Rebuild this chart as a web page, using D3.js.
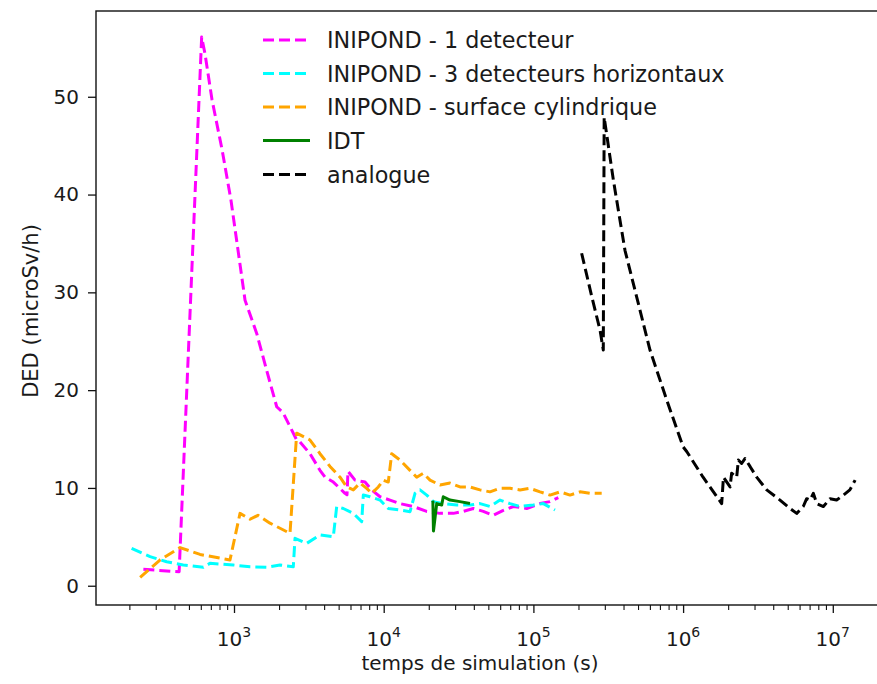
<!DOCTYPE html>
<html><head><meta charset="utf-8">
<script src="https://cdn.jsdelivr.net/npm/d3@7"></script>
<style>
body{margin:0;background:#fff}
svg{display:block}
text{font-family:"DejaVu Sans",sans-serif;fill:#1a1a1a}
</style>
</head><body>
<svg id="c" width="877" height="684"></svg>
<script>
// ---- data: [time (s), DED (microSv/h)] ----
const inipond1 = [[248,1.68],[430,1.43],[608,56.1],[640,54.4],[713,49.7],[832,44.6],[955,39.4],[1185,29.2],[1418,25.8],[1654,22.0],[1929,18.3],[2125,17.7],[2623,14.9],[2760,14.7],[3219,13.5],[3753,11.8],[4055,11.1],[4606,10.6],[5514,9.45],[5686,9.3],[5774,11.7],[6433,10.8],[7503,10.6],[8316,9.8],[9447,9.1],[11020,8.76],[12850,8.4],[15770,8.1],[19380,7.6],[23780,7.4],[29170,7.4],[34010,7.6],[39670,7.9],[46270,7.6],[53970,7.2],[62940,7.7],[73410,8.1],[90220,7.9],[110700,8.4],[129100,8.6],[146700,9.0]];
const inipond3 = [[207,3.82],[275,2.97],[355,2.45],[458,2.12],[624,1.88],[691,2.29],[989,2.12],[1279,1.94],[1654,1.88],[2029,2.12],[2489,1.94],[2556,4.85],[3059,4.33],[3753,5.2],[4606,5.0],[4853,8.1],[5372,7.9],[6265,7.4],[7129,6.55],[7308,9.27],[8099,9.1],[9447,8.76],[10730,7.9],[12850,7.74],[14990,7.57],[16190,9.45],[17480,9.8],[19380,9.27],[21450,8.6],[25010,8.4],[30740,8.25],[37720,8.25],[43990,8.4],[51300,8.1],[59830,8.76],[69790,8.4],[81400,8.1],[99840,8.25],[116500,8.4],[139400,7.74]];
const inipondCyl = [[236,0.86],[320,2.63],[436,3.9],[593,3.2],[940,2.63],[1097,7.4],[1279,6.8],[1446,7.2],[1740,6.4],[2366,5.36],[2623,15.6],[3219,14.9],[3753,13.5],[4378,12.2],[5107,11.1],[5660,10.1],[6265,9.8],[6946,10.5],[7700,9.96],[8316,9.45],[9203,10.1],[9938,10.8],[10730,10.6],[11310,13.5],[12850,12.85],[14990,11.8],[16610,11.1],[18390,11.5],[20390,10.8],[23780,10.3],[27730,10.5],[32340,10.1],[37720,10.1],[43990,9.8],[51300,9.6],[59830,9.96],[69790,9.96],[81400,9.8],[94900,9.96],[110700,9.6],[129100,9.27],[150600,9.6],[175600,9.27],[204800,9.6],[238800,9.45],[285900,9.45]];
const idt = [[21300,8.7],[21500,5.6],[22600,8.4],[24400,8.25],[25000,9.1],[27700,8.76],[32300,8.6],[37700,8.4]];
const analogue = [[210000,34.0],[246000,29.5],[279000,26.1],[293000,24.1],[297000,47.9],[342000,41.5],[409000,34.3],[601000,24.1],[777000,19.0],[1000000,14.2],[1060000,13.7],[1360000,11.1],[1810000,8.4],[1830000,9.45],[1860000,11.1],[2060000,10.1],[2110000,11.5],[2280000,11.1],[2340000,12.85],[2460000,12.5],[2590000,13.0],[2800000,12.2],[3100000,11.1],[3620000,9.8],[4440000,8.76],[5180000,7.9],[5740000,7.4],[6350000,8.1],[6690000,8.9],[7050000,8.76],[7410000,9.45],[7810000,8.4],[8650000,8.1],[9580000,8.9],[10600000,8.76],[11800000,9.27],[13000000,9.8],[14100000,10.8]];

const seriesNames = ["INIPOND - 1 detecteur","INIPOND - 3 detecteurs horizontaux","INIPOND - surface cylindrique","IDT","analogue"];
const seriesData = [inipond1, inipond3, inipondCyl, idt, analogue];
const seriesColors = ["#ff00ff","#00ffff","#ffa500","#008000","#000000"];
const seriesDashed = [true,true,true,false,true];

const yTicks = [0,10,20,30,40,50];
const xMajorExp = [3,4,5,6,7];
const xLabel = "temps de simulation (s)";
const yLabel = "DED (microSv/h)";

// ---- layout ----
const L = 96, R = 892, T = 11, B = 605;
const svg = d3.select("#c");
const x = d3.scaleLog().domain([119.7, 2.486e7]).range([L, R]);
const y = d3.scaleLinear().domain([-1.97, 58.77]).range([B, T]);

svg.append("defs").append("clipPath").attr("id","clip")
  .append("rect").attr("x",L).attr("y",T).attr("width",R-L).attr("height",B-T);

// lines
const line = d3.line().x(d => x(d[0])).y(d => y(d[1]));
const g = svg.append("g").attr("clip-path","url(#clip)");
seriesData.forEach((data,i) => {
  g.append("path").datum(data)
    .attr("d", line)
    .attr("fill","none")
    .attr("stroke", seriesColors[i])
    .attr("stroke-width", 3)
    .attr("stroke-dasharray", seriesDashed[i] ? "11,5" : null)
    .attr("stroke-linejoin","round");
});

// spines
svg.append("rect").attr("x",L).attr("y",T).attr("width",R-L).attr("height",B-T)
  .attr("fill","none").attr("stroke","#111").attr("stroke-width",1.4);

// y axis
const yAxis = d3.axisLeft(y).tickValues(yTicks).tickSize(8).tickPadding(9).tickFormat(d3.format("d"));
const ya = svg.append("g").attr("transform",`translate(${L},0)`).call(yAxis);
ya.select(".domain").remove();
ya.selectAll(".tick line").attr("stroke","#111").attr("stroke-width",1.3);
ya.selectAll(".tick text").style("font-size","20px").attr("font-family",null).attr("fill","#1a1a1a");

// x axis major
const majors = xMajorExp.map(e => Math.pow(10,e));
const xa = svg.append("g").attr("transform",`translate(0,${B})`)
  .call(d3.axisBottom(x).tickValues(majors).tickSize(8).tickFormat(""));
xa.select(".domain").remove();
xa.selectAll(".tick line").attr("stroke","#111").attr("stroke-width",1.3);
// minor ticks
const minors = [];
for (let e = 2; e <= 7; e++) for (let k = 2; k <= 9; k++) {
  const v = k*Math.pow(10,e);
  if (v > x.domain()[0] && v < x.domain()[1]) minors.push(v);
}
const xm = svg.append("g").attr("transform",`translate(0,${B})`)
  .call(d3.axisBottom(x).tickValues(minors).tickSize(5).tickFormat(""));
xm.select(".domain").remove();
xm.selectAll(".tick line").attr("stroke","#111").attr("stroke-width",1.1);

// x tick labels with superscripts
xMajorExp.forEach(e => {
  const t = svg.append("text").attr("x", x(Math.pow(10,e))).attr("y", 646)
    .attr("text-anchor","middle").style("font-size","20px");
  t.append("tspan").text("10");
  t.append("tspan").attr("dy",-9).style("font-size","14px").text(String(e));
});

// axis labels
svg.append("text").attr("x",480).attr("y",670).attr("text-anchor","middle")
  .style("font-size","20px").text(xLabel);
svg.append("text").attr("transform","translate(38,311) rotate(-90)").attr("text-anchor","middle")
  .style("font-size","21px").text(yLabel);

// legend
const legRows = [40, 73.5, 107, 140.5, 174.5];
seriesNames.forEach((name,i) => {
  const yy = legRows[i];
  svg.append("line").attr("x1",263).attr("x2",310).attr("y1",yy).attr("y2",yy)
    .attr("stroke",seriesColors[i]).attr("stroke-width",3)
    .attr("stroke-dasharray", seriesDashed[i] ? "11,5" : null);
  svg.append("text").attr("x",327).attr("y",yy+8).style("font-size","22.3px").text(name);
});
</script>
</body></html>
